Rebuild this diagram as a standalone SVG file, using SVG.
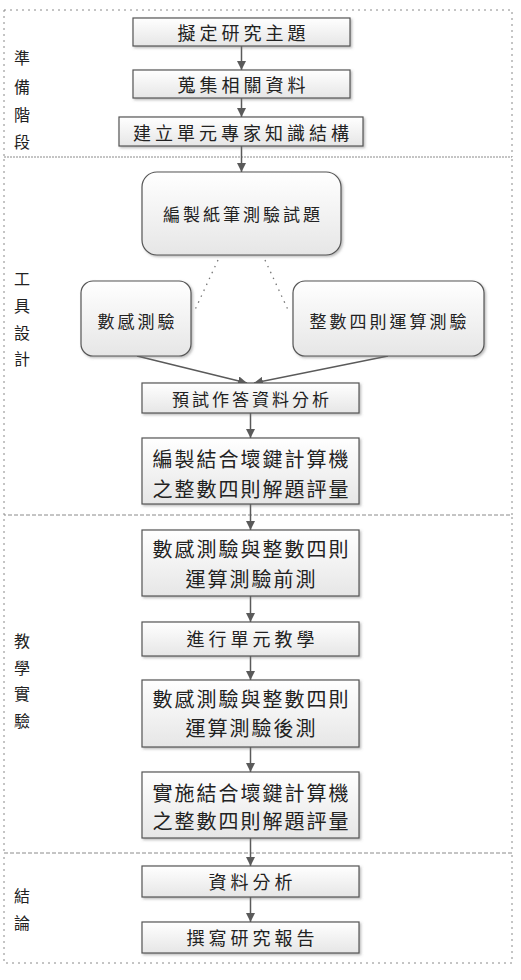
<svg xmlns="http://www.w3.org/2000/svg" width="521" height="980" viewBox="0 0 521 980">
<style>
.sec{fill:none;stroke:#8a8a8a;stroke-width:1;stroke-dasharray:2 4}
.box{fill:url(#g);stroke:#555;stroke-width:1.2;filter:url(#sh)}
.t{font-family:"Noto Sans CJK TC","Noto Sans CJK SC",sans-serif;fill:#222;text-anchor:middle;dominant-baseline:central}
.a{font-size:18px;letter-spacing:4px}
.b{font-size:17px;letter-spacing:3px}
.c{font-size:20px;letter-spacing:2px}
.lab{font-family:"Noto Sans CJK TC","Noto Sans CJK SC",sans-serif;font-size:16px;fill:#222;text-anchor:middle;dominant-baseline:central}
.ln{stroke:#5a5a5a;stroke-width:1.5;fill:none}
.dt{stroke:#777;stroke-width:1.3;stroke-dasharray:1.5 5;fill:none}
</style>
<defs>
<linearGradient id="g" x1="0" y1="0" x2="0" y2="1"><stop offset="0" stop-color="#ffffff"/><stop offset="1" stop-color="#e6e6e6"/></linearGradient>
<filter id="sh" x="-10%" y="-10%" width="130%" height="140%"><feDropShadow dx="1.5" dy="1.5" stdDeviation="1" flood-color="#777" flood-opacity="0.5"/></filter>
<marker id="ar" markerUnits="userSpaceOnUse" markerWidth="9" markerHeight="9" refX="9" refY="4.5" orient="auto"><path d="M0,0 L9,4.5 L0,9 z" fill="#5a5a5a"/></marker>
</defs>
<g id="sections">
<rect class="sec" x="4" y="10" width="508" height="147"/>
<rect class="sec" x="4" y="157" width="508" height="358"/>
<rect class="sec" x="4" y="515" width="508" height="338"/>
<rect class="sec" x="4" y="853" width="508" height="110"/>
</g>
<g id="labels">
<text class="lab" x="22" y="57">準</text><text class="lab" x="22" y="86">備</text><text class="lab" x="22" y="114">階</text><text class="lab" x="22" y="141">段</text>
<text class="lab" x="22" y="278">工</text><text class="lab" x="22" y="305">具</text><text class="lab" x="22" y="332">設</text><text class="lab" x="22" y="358">計</text>
<text class="lab" x="22" y="640">教</text><text class="lab" x="22" y="667">學</text><text class="lab" x="22" y="693">實</text><text class="lab" x="22" y="720">驗</text>
<text class="lab" x="22" y="895">結</text><text class="lab" x="22" y="922">論</text>
</g>
<g id="connectors">
<line class="ln" x1="241.5" y1="46" x2="241.5" y2="70" marker-end="url(#ar)"/>
<line class="ln" x1="241.5" y1="98" x2="241.5" y2="117" marker-end="url(#ar)"/>
<line class="ln" x1="241.5" y1="146" x2="241.5" y2="172" marker-end="url(#ar)"/>
<line class="dt" x1="218" y1="260" x2="194" y2="312"/>
<line class="dt" x1="265" y1="260" x2="289" y2="312"/>
<line class="ln" x1="137" y1="356" x2="247" y2="383" marker-end="url(#ar)"/>
<line class="ln" x1="388" y1="356" x2="254" y2="383" marker-end="url(#ar)"/>
<line class="ln" x1="250.5" y1="413" x2="250.5" y2="438" marker-end="url(#ar)"/>
<line class="ln" x1="250.5" y1="504" x2="250.5" y2="530" marker-end="url(#ar)"/>
<line class="ln" x1="250.5" y1="596" x2="250.5" y2="622" marker-end="url(#ar)"/>
<line class="ln" x1="250.5" y1="656" x2="250.5" y2="680" marker-end="url(#ar)"/>
<line class="ln" x1="250.5" y1="747" x2="250.5" y2="772" marker-end="url(#ar)"/>
<line class="ln" x1="250.5" y1="838" x2="250.5" y2="866" marker-end="url(#ar)"/>
<line class="ln" x1="250.5" y1="897" x2="250.5" y2="922" marker-end="url(#ar)"/>
</g>
<g id="n1"><rect class="box" x="133" y="18" width="217" height="28"/><text class="t a" x="243.5" y="32">擬定研究主題</text></g>
<g id="n2"><rect class="box" x="133" y="70" width="217" height="28"/><text class="t a" x="243.5" y="84">蒐集相關資料</text></g>
<g id="n3"><rect class="box" x="119" y="117" width="244" height="29"/><text class="t a" x="243" y="131.5">建立單元專家知識結構</text></g>
<g id="n4"><rect class="box" x="142" y="172" width="199" height="83" rx="15"/><text class="t b" x="243" y="213">編製紙筆測驗試題</text></g>
<g id="n5"><rect class="box" x="81" y="281" width="110" height="75" rx="12"/><text class="t b" x="137.5" y="320">數感測驗</text></g>
<g id="n6"><rect class="box" x="293" y="281" width="191" height="75" rx="12"/><text class="t b" x="389.5" y="320">整數四則運算測驗</text></g>
<g id="n7"><rect class="box" x="142" y="383" width="217" height="30"/><text class="t b" x="252" y="398">預試作答資料分析</text></g>
<g id="n8"><rect class="box" x="142" y="438" width="217" height="66"/><text class="t c" x="251.5" y="458">編製結合壞鍵計算機</text><text class="t c" x="251.5" y="488">之整數四則解題評量</text></g>
<g id="n9"><rect class="box" x="142" y="530" width="217" height="66"/><text class="t c" x="251.5" y="548">數感測驗與整數四則</text><text class="t c" x="251.5" y="578">運算測驗前測</text></g>
<g id="n10"><rect class="box" x="142" y="622" width="217" height="34"/><text class="t a" x="252.5" y="638">進行單元教學</text></g>
<g id="n11"><rect class="box" x="142" y="680" width="217" height="67"/><text class="t c" x="251.5" y="698">數感測驗與整數四則</text><text class="t c" x="251.5" y="727">運算測驗後測</text></g>
<g id="n12"><rect class="box" x="142" y="772" width="217" height="66"/><text class="t c" x="251.5" y="792">實施結合壞鍵計算機</text><text class="t c" x="251.5" y="820">之整數四則解題評量</text></g>
<g id="n13"><rect class="box" x="142" y="866" width="217" height="31"/><text class="t a" x="252.5" y="881">資料分析</text></g>
<g id="n14"><rect class="box" x="142" y="922" width="217" height="31"/><text class="t a" x="252.5" y="937">撰寫研究報告</text></g>
</svg>
